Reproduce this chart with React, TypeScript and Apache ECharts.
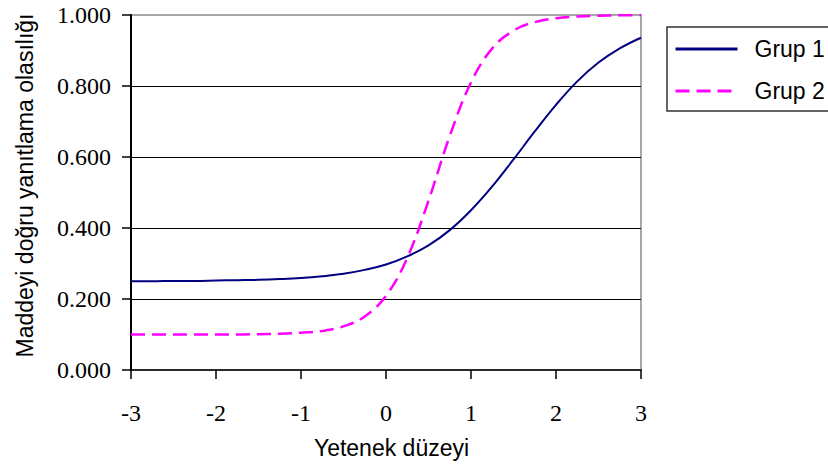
import React, { useEffect, useRef } from "react";
import * as echarts from "echarts";

const theta = [
  -3, -2.75, -2.5, -2.25, -2, -1.75, -1.5, -1.25, -1, -0.75, -0.5, -0.25, 0,
  0.25, 0.5, 0.75, 1, 1.25, 1.5, 1.75, 2, 2.25, 2.5, 2.75, 3,
];
const grup1 = [
  0.25, 0.25, 0.251, 0.251, 0.252, 0.253, 0.254, 0.256, 0.259, 0.264, 0.271,
  0.282, 0.297, 0.32, 0.351, 0.394, 0.45, 0.517, 0.593, 0.672, 0.747, 0.813,
  0.866, 0.906, 0.936,
];
const grup2 = [
  0.1, 0.1, 0.1, 0.1, 0.1, 0.1, 0.101, 0.102, 0.105, 0.11, 0.123, 0.151, 0.209,
  0.316, 0.477, 0.659, 0.81, 0.906, 0.956, 0.98, 0.991, 0.996, 0.998, 0.999, 1.0,
];
const seriesNames = ["Grup 1", "Grup 2"];
const xTitle = "Yetenek düzeyi";
const yTitle = "Maddeyi doğru yanıtlama olasılığı";

const SANS = "Liberation Sans";
const SERIF = "Liberation Serif";

export default function App() {
  const ref = useRef<HTMLDivElement>(null);
  useEffect(() => {
    if (!ref.current) return;
    const chart = echarts.init(ref.current, null, { renderer: "svg" });
    chart.setOption({
      animation: false,
      backgroundColor: "#ffffff",
      grid: {
        left: 131,
        right: 187,
        top: 15,
        bottom: 100,
        show: true,
        borderColor: "#8a8a8a",
        borderWidth: 1.5,
      },
      legend: {
        orient: "vertical",
        left: 674,
        top: 37,
        padding: 0,
        itemWidth: 62,
        itemHeight: 14,
        itemGap: 18,
        data: seriesNames,
        itemStyle: { opacity: 0 },
        lineStyle: { width: 3 },
        textStyle: {
          fontFamily: SANS,
          fontSize: 23,
          lineHeight: 24,
          color: "#000",
          padding: [0, 0, 0, 12],
        },
      },
      graphic: [
        {
          type: "rect",
          shape: { x: 667, y: 27, width: 200, height: 84 },
          style: { fill: "none", stroke: "#333", lineWidth: 1.5 },
          z: 10,
        },
      ],
      xAxis: {
        type: "value",
        min: -3,
        max: 3,
        interval: 1,
        name: xTitle,
        nameLocation: "middle",
        nameGap: 66,
        nameTextStyle: {
          fontFamily: SANS,
          fontSize: 23,
          color: "#000",
          padding: [0, 0, 0, 11],
        },
        axisLine: { onZero: false, lineStyle: { color: "#000", width: 1.5 } },
        axisTick: { show: true, length: 9, lineStyle: { color: "#000", width: 1.5 } },
        axisLabel: {
          margin: 31,
          fontFamily: SERIF,
          fontSize: 24,
          color: "#000",
        },
        splitLine: { show: false },
      },
      yAxis: {
        type: "value",
        min: 0,
        max: 1,
        interval: 0.2,
        name: yTitle,
        nameLocation: "middle",
        nameGap: 95,
        nameTextStyle: {
          fontFamily: SANS,
          fontSize: 23,
          color: "#000",
          padding: [0, 0, 0, 14],
        },
        axisLine: { show: true, onZero: false, lineStyle: { color: "#000", width: 2 } },
        axisTick: { show: true, length: 9, lineStyle: { color: "#000", width: 1.5 } },
        axisLabel: {
          margin: 20,
          fontFamily: SERIF,
          fontSize: 24,
          color: "#000",
          formatter: (v: number) => v.toFixed(3),
        },
        splitLine: {
          show: true,
          showMinLine: false,
          showMaxLine: false,
          lineStyle: { color: "#000", width: 1.2 },
        },
      },
      series: [
        {
          name: seriesNames[0],
          type: "line",
          data: theta.map((t, i) => [t, grup1[i]]),
          smooth: 0.4,
          symbol: "none",
          lineStyle: { color: "#000080", width: 2 },
          itemStyle: { color: "#000080" },
          z: 3,
        },
        {
          name: seriesNames[1],
          type: "line",
          data: theta.map((t, i) => [t, grup2[i]]),
          smooth: 0.4,
          symbol: "none",
          lineStyle: { color: "#ff00ff", width: 2.5, type: [14, 7] },
          itemStyle: { color: "#ff00ff" },
          z: 4,
        },
      ],
    });
    return () => chart.dispose();
  }, []);
  return (
    <div
      ref={ref}
      style={{ position: "fixed", left: 0, top: 0, width: 828, height: 470 }}
    />
  );
}
